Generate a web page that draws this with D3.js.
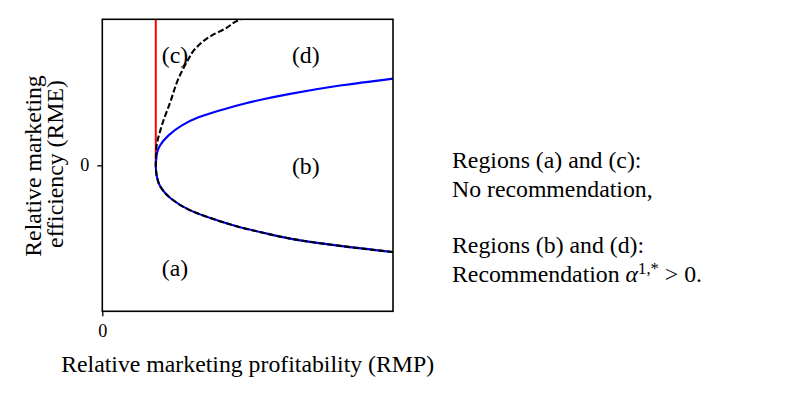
<!DOCTYPE html>
<html><head><meta charset="utf-8">
<script src="https://cdn.jsdelivr.net/npm/d3@7"></script>
<style>body{margin:0;background:#fff}svg{display:block}</style>
</head><body>
<svg id="c" width="793" height="397"></svg>
<script>
// Boundary curves (data units: RMP in [0,1], RME in [-1,1])
const blueUpper = [[0.184,0],[0.186,0.05],[0.189,0.089],[0.199,0.137],[0.228,0.205],[0.274,0.274],[0.331,0.329],[0.400,0.374],[0.491,0.424],[0.646,0.489],[0.818,0.546],[1.0,0.594]];
const lowerBranch = [[0.184,0],[0.185,-0.04],[0.188,-0.080],[0.199,-0.144],[0.237,-0.229],[0.299,-0.305],[0.377,-0.365],[0.468,-0.421],[0.549,-0.460],[0.646,-0.502],[0.818,-0.552],[1.0,-0.594]];
const dashedUpper = [[0.184,0],[0.186,0.116],[0.205,0.274],[0.234,0.434],[0.262,0.594],[0.291,0.708],[0.320,0.799],[0.377,0.890],[0.423,0.936],[0.468,0.993],[0.49,1.01]];
const redX = 0.184;
const regionLabels = [{t:"(c)",x:0.250,y:0.756},{t:"(d)",x:0.700,y:0.756},{t:"(b)",x:0.700,y:-0.005},{t:"(a)",x:0.250,y:-0.700}];
const xTicks = [0], yTicks = [0];
const xLabel = "Relative marketing profitability (RMP)";
const yLabelLines = ["Relative marketing","efficiency (RME)"];

const svg = d3.select("#c");
const FONT = "'Liberation Serif', 'Times New Roman', serif";
const L=102.3, R=393, T=19.3, B=311.3;
const x = d3.scaleLinear().domain([0,1]).range([L,R]);
const y = d3.scaleLinear().domain([-1,1]).range([B,T]);

// measure font scaling so x label spans ~373px
const probe = svg.append("text").attr("font-family",FONT).attr("font-size",20).text(xLabel);
const k = 373/probe.node().getComputedTextLength();
probe.remove();
const fs = 20*k, fsTick = 15.3*k;

svg.append("clipPath").attr("id","clip").append("rect").attr("x",L).attr("y",T).attr("width",R-L).attr("height",B-T);
const g = svg.append("g").attr("clip-path","url(#clip)");
const lineY = d3.line().x(d=>x(d[0])).y(d=>y(d[1])).curve(d3.curveMonotoneY);

g.append("line").attr("x1",x(redX)).attr("x2",x(redX)).attr("y1",y(0)).attr("y2",y(1.05))
  .attr("stroke","#ff0000").attr("stroke-width",2);
const blueAll = lowerBranch.slice().reverse().concat(blueUpper.slice(1));
g.append("path").attr("d",lineY(blueAll)).attr("fill","none").attr("stroke","#0000ff").attr("stroke-width",2.1);
const blackAll = lowerBranch.slice().reverse().concat(dashedUpper.slice(1));
g.append("path").attr("d",lineY(blackAll)).attr("fill","none").attr("stroke","#000").attr("stroke-width",2.1)
  .attr("stroke-dasharray","6,2.6");

// frame
svg.append("rect").attr("x",L).attr("y",T).attr("width",R-L).attr("height",B-T)
  .attr("fill","none").attr("stroke","#000").attr("stroke-width",1.6);

// axes
const xa = svg.append("g").attr("transform",`translate(0,${B})`)
  .call(d3.axisBottom(x).tickValues(xTicks).tickSize(5).tickFormat(d3.format("d")));
const ya = svg.append("g").attr("transform",`translate(${L},0)`)
  .call(d3.axisLeft(y).tickValues(yTicks).tickSize(5).tickFormat(d3.format("d")));
[xa,ya].forEach(a=>{a.select(".domain").remove();a.selectAll("line").attr("stroke","#000").attr("stroke-width",1.3);
  a.selectAll("text").attr("font-family",FONT).attr("font-size",fsTick).attr("fill","#000");});
xa.selectAll("text").attr("dy",null).attr("y",26);
ya.selectAll("text").attr("dy",null).attr("x",-13).attr("y",5.5);

// region labels
svg.selectAll("text.reg").data(regionLabels).join("text").attr("class","reg")
  .attr("x",d=>x(d.x)).attr("y",d=>y(d.y)).attr("dy","0.35em").attr("text-anchor","middle")
  .attr("font-family",FONT).attr("font-size",fs).text(d=>d.t);

// axis labels
svg.append("text").attr("x",(L+R)/2).attr("y",372).attr("text-anchor","middle")
  .attr("font-family",FONT).attr("font-size",fs).text(xLabel);
const ybase=[41,63], ycen=[166,164];
yLabelLines.forEach((t,i)=>{
  svg.append("text").attr("transform",`translate(${ybase[i]},${ycen[i]}) rotate(-90)`).attr("text-anchor","middle")
    .attr("font-family",FONT).attr("font-size",fs).text(t);
});

// annotation
const ann = svg.append("g").attr("font-family",FONT).attr("font-size",fs);
ann.append("text").attr("x",452).attr("y",168).text("Regions (a) and (c):");
ann.append("text").attr("x",452).attr("y",197).text("No recommendation,");
ann.append("text").attr("x",452).attr("y",253).text("Regions (b) and (d):");
const t4 = ann.append("text").attr("x",452).attr("y",282);
t4.append("tspan").text("Recommendation ");
t4.append("tspan").attr("font-style","italic").text("α");
t4.append("tspan").attr("dy",-8).attr("font-size",fs*0.7).text("1,*");
t4.append("tspan").attr("dy",8).text(" > 0.");
</script>
</body></html>
